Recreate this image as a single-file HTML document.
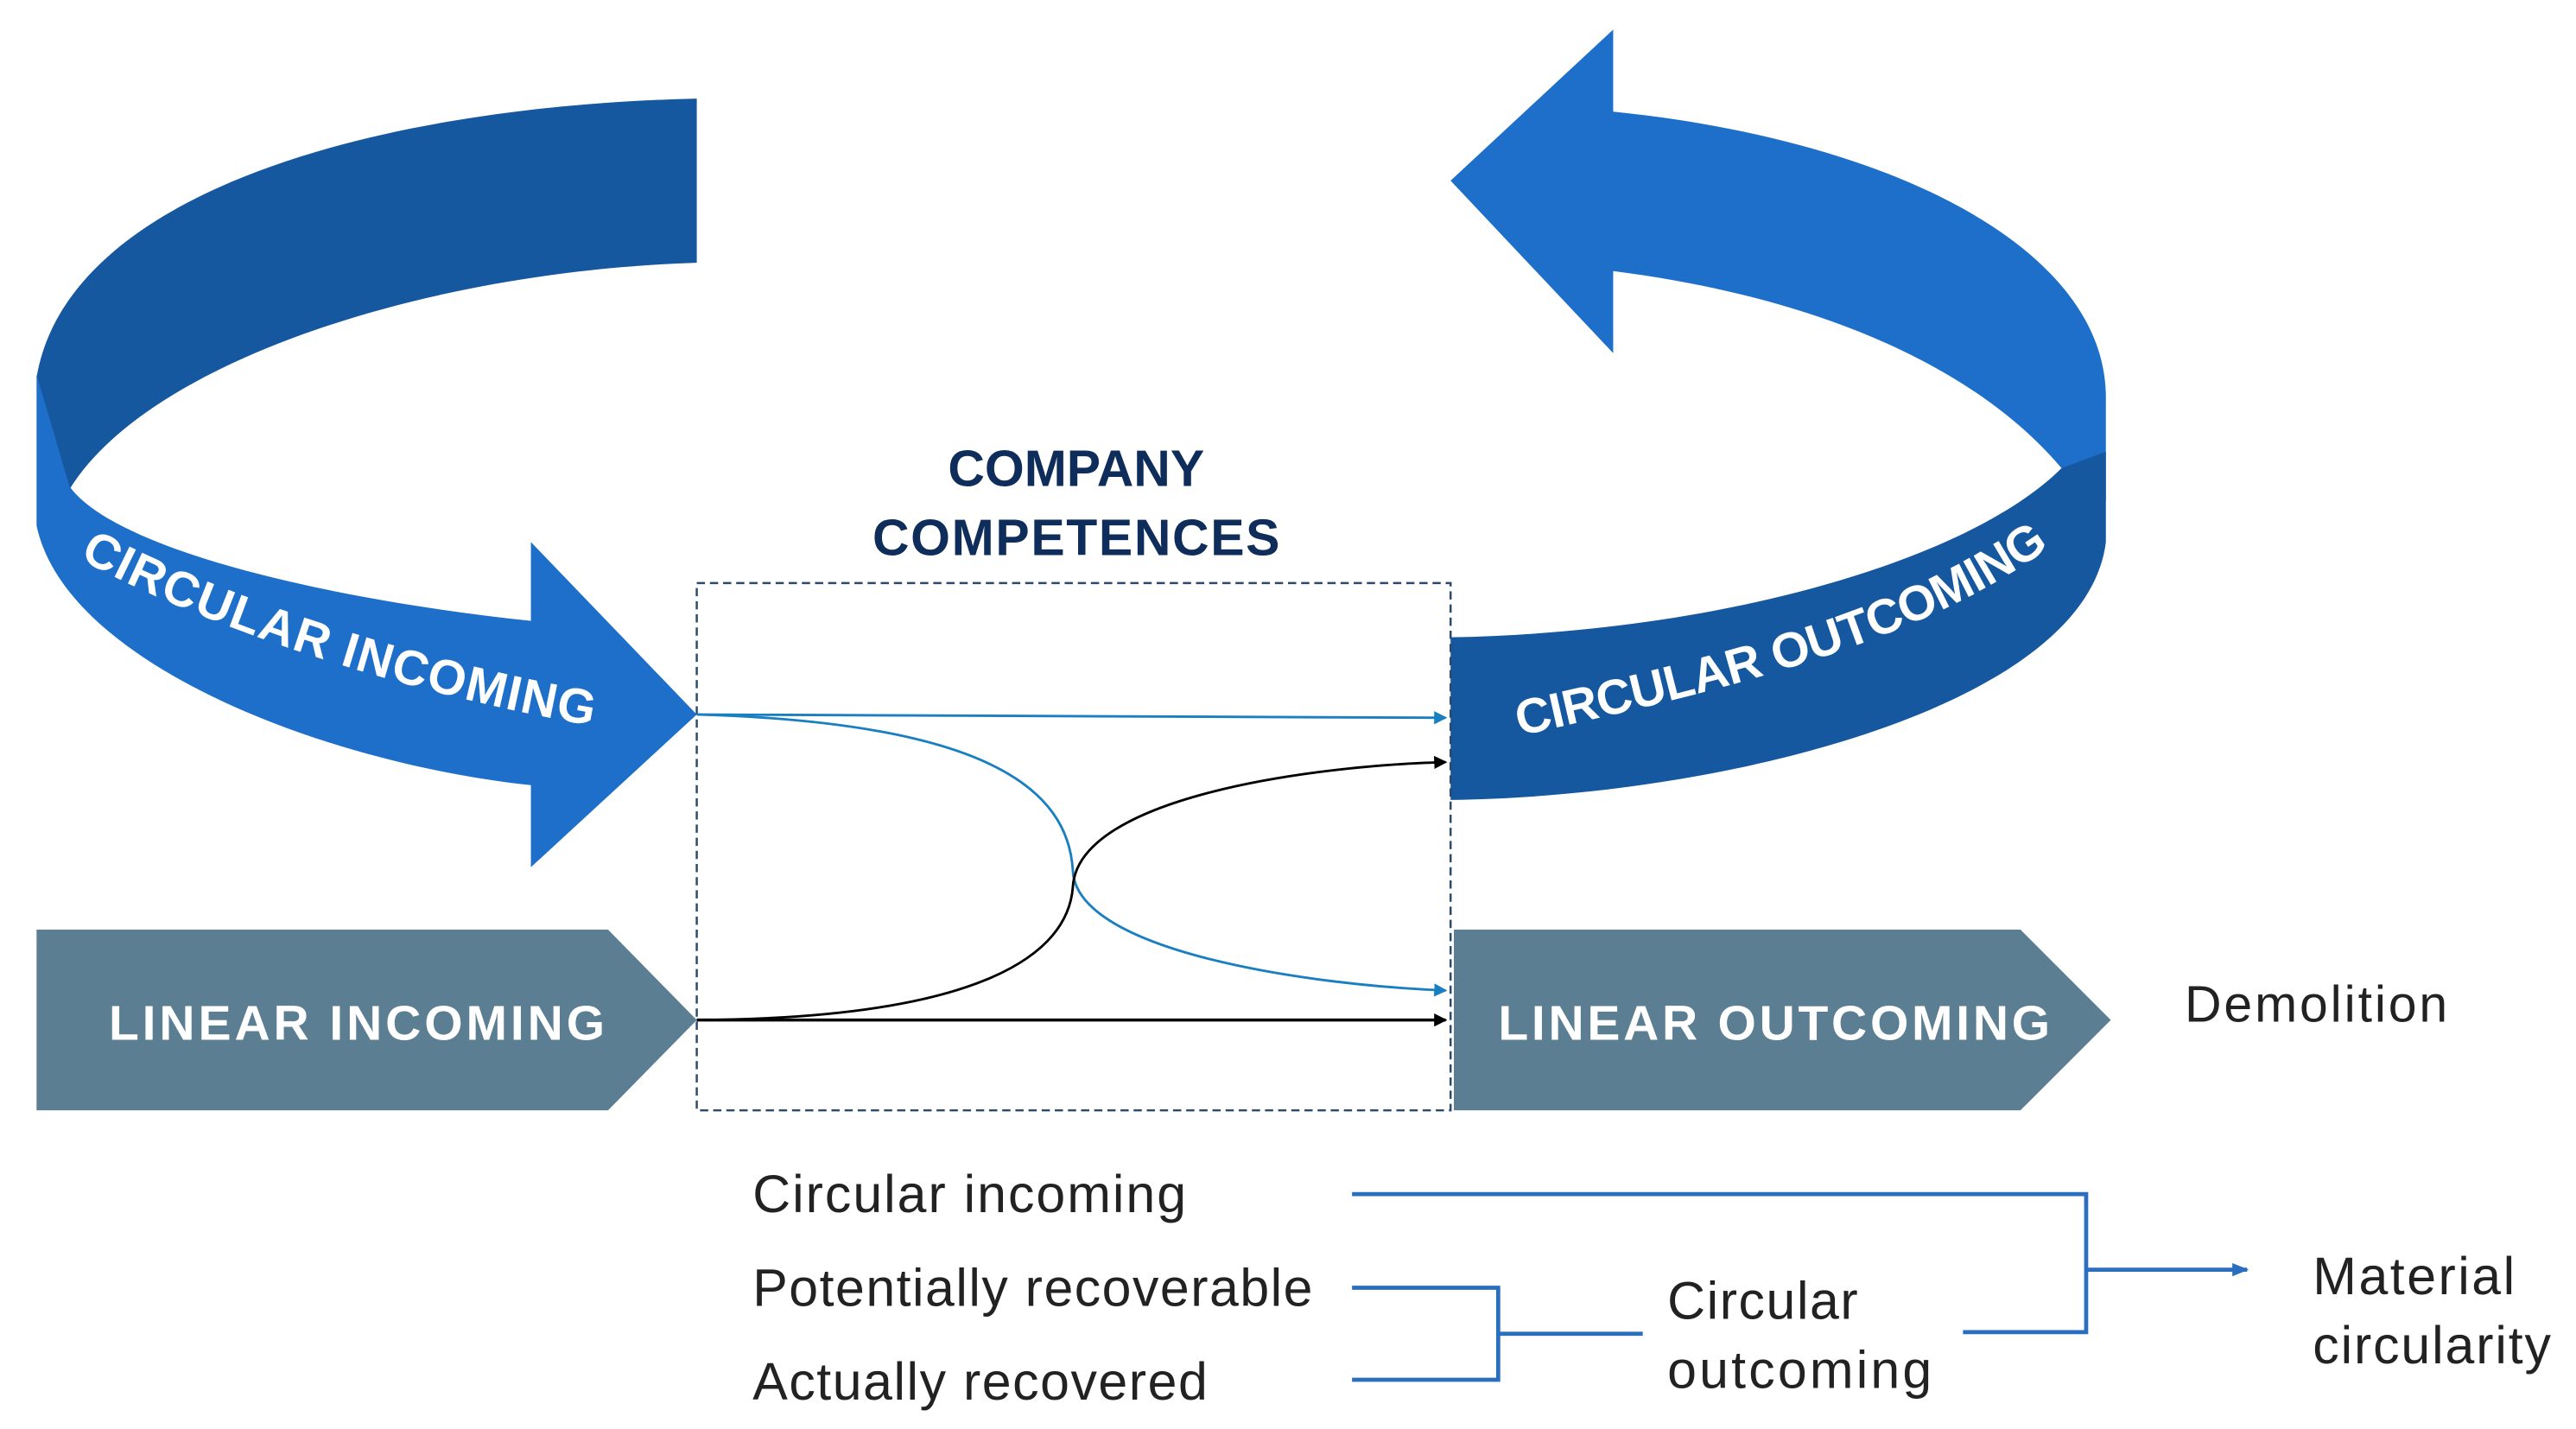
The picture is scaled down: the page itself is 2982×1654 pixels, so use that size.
<!DOCTYPE html>
<html><head><meta charset="utf-8"><style>html,body{margin:0;padding:0;background:#fff}svg{display:block}</style></head>
<body>
<svg width="2982" height="1654" viewBox="0 0 1568 870" xmlns="http://www.w3.org/2000/svg" font-family="Liberation Sans, sans-serif">
<defs>
<marker id="ab" markerWidth="8" markerHeight="8" refX="7" refY="4" orient="auto" markerUnits="userSpaceOnUse"><path d="M0,0 L8,4 L0,8 Z" fill="#1a7fc0"/></marker>
<marker id="ak" markerWidth="8" markerHeight="8" refX="7" refY="4" orient="auto" markerUnits="userSpaceOnUse"><path d="M0,0 L8,4 L0,8 Z" fill="#000"/></marker>
<marker id="am" markerWidth="10" markerHeight="10" refX="9" refY="5" orient="auto" markerUnits="userSpaceOnUse"><path d="M0,1 L10,5 L0,9 Z" fill="#2a6ec0"/></marker>
<path id="t1" d="M48,340 C120,380 250,425 380,445"/>
<path id="t2" d="M925,448 C1050,420 1180,390 1262,322"/>
</defs>
<path d="M424,60 C220,65 40,120 22,230 L42,298 C90,220 260,165 424,160 Z" fill="#1558a0"/>
<path d="M22,228 L22,320 C40,405 200,465 323,478 L323,528 L424,435 L323,330 L323,378 C200,365 70,335 42,296 Z" fill="#1e6fc9"/>
<text font-size="30" font-weight="bold" fill="#fff"><textPath href="#t1" textLength="330">CIRCULAR INCOMING</textPath></text>
<path d="M883,110 L982,18 L982,68 C1150,85 1280,150 1282,240 L1282,305 L1255,285 C1200,220 1100,180 982,165 L982,215 Z" fill="#1e6fc9"/>
<path d="M1255,285 L1282,275 L1282,330 C1270,430 1050,485 883,487 L883,388 C1050,385 1200,340 1255,285 Z" fill="#1558a0"/>
<text font-size="30" font-weight="bold" fill="#fff"><textPath href="#t2" textLength="345">CIRCULAR OUTCOMING</textPath></text>
<text x="655" y="296" font-size="31" font-weight="bold" fill="#0e2d5a" text-anchor="middle">COMPANY</text>
<text x="655" y="338" font-size="31" font-weight="bold" fill="#0e2d5a" text-anchor="middle" textLength="248">COMPETENCES</text>
<rect x="424" y="355" width="459" height="321" fill="none" stroke="#2b4a6e" stroke-width="1.3" stroke-dasharray="5,3"/>
<polygon points="22,566 370,566 424,621 370,676 22,676" fill="#5b7e93"/>
<text x="217" y="633" font-size="30" font-weight="bold" fill="#fff" text-anchor="middle" textLength="302">LINEAR INCOMING</text>
<polygon points="885,566 1230,566 1285,621 1230,676 885,676" fill="#5b7e93"/>
<text x="1080" y="633" font-size="30" font-weight="bold" fill="#fff" text-anchor="middle" textLength="336">LINEAR OUTCOMING</text>
<path d="M424,435 L880,437" stroke="#1a7fc0" stroke-width="1.5" fill="none" marker-end="url(#ab)"/>
<path d="M424,435 C600,440 650,480 653,530 C655,580 800,600 880,603" stroke="#1a7fc0" stroke-width="1.5" fill="none" marker-end="url(#ab)"/>
<path d="M424,621 C600,620 650,580 653,540 C656,485 800,466 880,464" stroke="#000" stroke-width="1.5" fill="none" marker-end="url(#ak)"/>
<path d="M424,621 L880,621" stroke="#000" stroke-width="1.8" fill="none" marker-end="url(#ak)"/>
<text x="1330" y="622" font-size="31" fill="#222" textLength="160">Demolition</text>
<g font-size="32" fill="#222">
<text x="458" y="738" textLength="264">Circular incoming</text>
<text x="458" y="795" textLength="341">Potentially recoverable</text>
<text x="458" y="852" textLength="277">Actually recovered</text>
<text x="1015" y="803" textLength="116">Circular</text>
<text x="1015" y="845" textLength="161">outcoming</text>
<text x="1408" y="788" textLength="123">Material</text>
<text x="1408" y="830" textLength="145">circularity</text>
</g>
<g stroke="#2a6ec0" stroke-width="2.5" fill="none">
<path d="M823,727 L1270,727 L1270,811 L1195,811"/>
<path d="M1270,773 L1368,773" marker-end="url(#am)"/>
<path d="M823,784 L912,784 L912,840 L823,840"/>
<path d="M912,812 L1000,812"/>
</g>
</svg>
</body></html>
